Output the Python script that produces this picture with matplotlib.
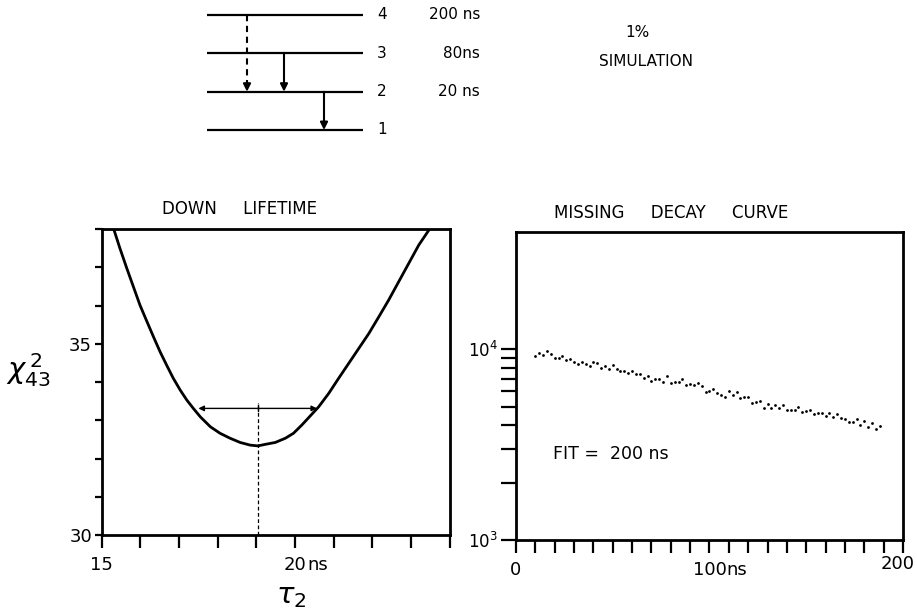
import numpy as np
import matplotlib
matplotlib.use("Agg")
import matplotlib.pyplot as plt
from matplotlib.ticker import FixedLocator
import matplotlib.transforms as mtransforms

plt.rcParams['font.family'] = ['DejaVu Sans']
plt.rcParams['mathtext.fontset'] = 'dejavusans'

# ---------------- data ----------------
# energy level diagram
levels = [1, 2, 3, 4]
lifetimes = ['', '20 ns', '80ns', '200 ns']
transitions_from = [4, 3, 2]
transitions_to = [2, 2, 1]
transition_dashed = [True, False, False]

# left panel: chi-square vs tau_2
tau2 = [15.32, 15.47, 15.65, 15.82, 15.99, 16.17, 16.34, 16.51, 16.68, 16.85,
        17.03, 17.20, 17.37, 17.55, 17.81, 18.06, 18.32, 18.58, 18.84, 19.04,
        19.23, 19.49, 19.75, 19.96, 20.18, 20.40, 20.61, 20.87, 21.13, 21.39,
        21.65, 21.91, 22.17, 22.42, 22.68, 22.94, 23.20, 23.46]
chi2 = [37.97, 37.50, 36.97, 36.49, 36.01, 35.58, 35.18, 34.79, 34.44, 34.10,
        33.79, 33.53, 33.31, 33.09, 32.83, 32.66, 32.53, 32.42, 32.35, 32.33,
        32.37, 32.42, 32.53, 32.66, 32.88, 33.12, 33.35, 33.70, 34.10, 34.49,
        34.88, 35.27, 35.71, 36.14, 36.62, 37.10, 37.58, 37.97]
tau_best = 19.04
err_lo, err_hi, err_level = 17.50, 20.57, 33.31

# right panel: missing decay curve
t_ns = [10, 12, 14, 16, 18, 20, 22, 24, 26, 28, 30, 32, 34, 36, 38, 40, 42, 44,
        46, 48, 50, 52, 54, 56, 58, 60, 62, 64, 66, 68, 70, 72, 74, 76, 78, 80,
        82, 84, 86, 88, 90, 92, 94, 96, 98, 100, 102, 104, 106, 108, 110, 112,
        114, 116, 118, 120, 122, 124, 126, 128, 130, 132, 134, 136, 138, 140,
        142, 144, 146, 148, 150, 152, 154, 156, 158, 160, 162, 164, 166, 168,
        170, 172, 174, 176, 178, 180, 182, 184, 186, 188]
counts = [9146, 9529, 9256, 9714, 9369, 9002, 8926, 9224, 8787, 8893,
          8580, 8344, 8548, 8344, 8107, 8507, 8446, 7951, 8107, 7884,
          8275, 7855, 7696, 7668, 7449, 7668, 7422, 7359, 7012, 7244,
          6763, 6988, 6962, 6714, 7183, 6601, 6714, 6738, 6928, 6475,
          6523, 6499, 6657, 6421, 5971, 6043, 6169, 5878, 5759, 5641,
          6043, 5738, 5950, 5534, 5622, 5622, 5230, 5275, 5313, 4941,
          5186, 4905, 5124, 4905, 5105, 4823, 4823, 4787, 5000, 4708,
          4764, 4805, 4562, 4617, 4617, 4469, 4617, 4431, 4562, 4378,
          4310, 4157, 4157, 4326, 4009, 4207, 3928, 4093, 3806, 3976]

# ---------------- figure ----------------
W, H = 917, 612
fig = plt.figure(figsize=(W / 100, H / 100), dpi=100)

# ---- level diagram ----
ax0 = fig.add_axes([0, 0.7631, 1, 0.2369])
ax0.set_xlim(0, W)
ax0.set_ylim(0.609, 4.391)
ax0.axis('off')
line_x0, line_x1 = 207, 363
for lv, lt in zip(levels, lifetimes):
    ax0.plot([line_x0, line_x1], [lv, lv], color='black', lw=1.6,
             solid_capstyle='butt')
    ax0.text(382, lv, str(lv), ha='center', va='center', fontsize=11)
    if lt:
        ax0.text(480, lv, lt, ha='right', va='center', fontsize=11)
arrow_x = [247, 284, 324]
for xa, lf, lt_, dashed in zip(arrow_x, transitions_from, transitions_to,
                               transition_dashed):
    ax0.plot([xa, xa], [lf, lt_ + 0.2], color='black', lw=1.5,
             linestyle=(0, (3, 2.2)) if dashed else '-')
    ax0.annotate('', xy=(xa, lt_), xytext=(xa, lt_ + 0.25),
                 arrowprops=dict(arrowstyle='-|>', color='black', lw=1.5,
                                 mutation_scale=11, shrinkA=0, shrinkB=0))
ax0.text(637, 3.55, '1%', ha='center', va='center', fontsize=11)
ax0.text(646, 2.78, 'SIMULATION', ha='center', va='center', fontsize=11)

# ---- left panel ----
ax1 = fig.add_axes([0.1109, 0.1258, 0.3795, 0.5])
ax1.plot(tau2, chi2, color='black', lw=2.0, solid_joinstyle='round')
ax1.set_xlim(15, 24)
ax1.set_ylim(30, 38)
ax1.plot([tau_best, tau_best], [30, err_level + 0.13], color='black',
         lw=0.9, linestyle=(0, (3, 2)))
ax1.annotate('', xy=(err_lo, err_level), xytext=(tau_best, err_level),
             arrowprops=dict(arrowstyle='-|>', color='black', lw=1.0,
                             mutation_scale=8, shrinkA=0, shrinkB=0))
ax1.annotate('', xy=(err_hi, err_level), xytext=(tau_best, err_level),
             arrowprops=dict(arrowstyle='-|>', color='black', lw=1.0,
                             mutation_scale=8, shrinkA=0, shrinkB=0))
ax1.plot([tau_best, tau_best], [err_level - 0.08, err_level + 0.08],
         color='black', lw=1.0)
for sp in ax1.spines.values():
    sp.set_linewidth(2.0)
ax1.xaxis.set_major_locator(FixedLocator(list(range(15, 25))))
ax1.yaxis.set_major_locator(FixedLocator(list(range(30, 39))))
ax1.set_xticklabels(['15', '', '', '', '', '20', '', '', '', ''])
ax1.set_yticklabels(['30', '', '', '', '', '35', '', '', ''])
ax1.tick_params(axis='x', direction='out', length=9, width=1.6,
                labelsize=13, pad=6)
ax1.tick_params(axis='y', direction='out', length=5, width=1.6,
                labelsize=13, pad=2)
off = mtransforms.offset_copy(ax1.get_xaxis_transform(), fig=fig, x=9,
                              y=-15, units='points')
ax1.text(20, 0, 'ns', transform=off, ha='left', va='top', fontsize=13)
ax1.text(0.396, 1 + 20 / 306, 'DOWN     LIFETIME', transform=ax1.transAxes,
         fontsize=12, ha='center', va='center')
fig.text(28 / W, 1 - 370 / H, r'$\chi^{\,2}_{43}$', fontsize=21,
         ha='center', va='center')
fig.text(291 / W, 1 - 596 / H, r'$\tau_2$', fontsize=21,
         ha='center', va='center')

# ---- right panel ----
ax2 = fig.add_axes([0.5627, 0.1176, 0.422, 0.5033])
ax2.set_yscale('log')
ax2.plot(t_ns, counts, linestyle='none', marker='o', ms=2.0,
         markeredgewidth=0, color='black')
ax2.set_xlim(0, 200)
ax2.set_ylim(1000, 4.1e4)
for sp in ax2.spines.values():
    sp.set_linewidth(2.0)
ax2.xaxis.set_major_locator(FixedLocator(list(range(0, 201, 10))))
ax2.set_xticklabels(['0' if v == 0 else '100' if v == 100 else ''
                     for v in range(0, 201, 10)])
ax2.yaxis.set_major_locator(FixedLocator([1000, 10000]))
ax2.yaxis.set_minor_locator(FixedLocator([2000, 3000, 4000, 5000, 6000,
                                          7000, 8000, 9000]))
ax2.set_yticklabels([r'$10^3$', r'$10^4$'])
ax2.yaxis.set_minor_formatter(plt.NullFormatter())
ax2.tick_params(axis='x', direction='out', length=9, width=1.6,
                labelsize=13, pad=6)
ax2.tick_params(axis='y', which='both', direction='out', length=11,
                width=1.6, labelsize=12, pad=2)
off2 = mtransforms.offset_copy(ax2.get_xaxis_transform(), fig=fig, x=12,
                               y=-15, units='points')
ax2.text(100, 0, 'ns', transform=off2, ha='left', va='top', fontsize=13)
off3 = mtransforms.offset_copy(ax2.get_xaxis_transform(), fig=fig, x=12,
                               y=-15, units='dots')
ax2.text(200, 0, '200', transform=off3, ha='right', va='top', fontsize=13)
ax2.text(0.095, 0.28, 'FIT =  200 ns', transform=ax2.transAxes,
         fontsize=12.5, ha='left', va='center')
ax2.text(0.40, 1 + 19 / 308, 'MISSING     DECAY     CURVE',
         transform=ax2.transAxes, fontsize=12, ha='center', va='center')

fig.savefig('out.png', dpi=100)
